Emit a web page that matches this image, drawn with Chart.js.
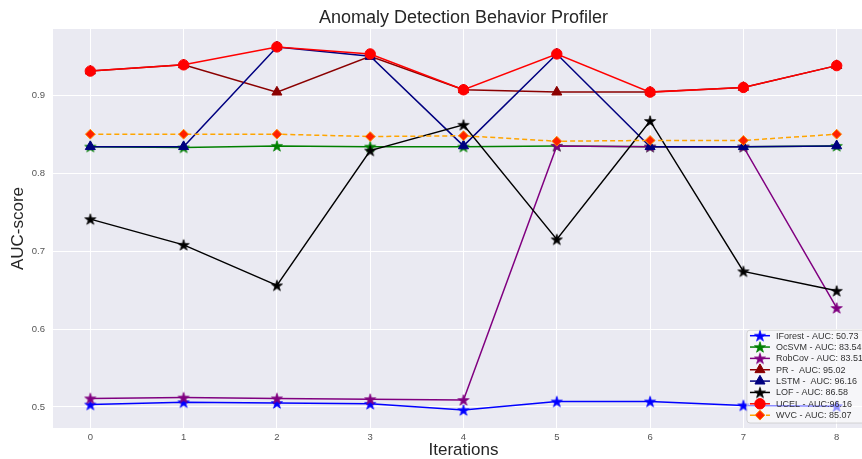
<!DOCTYPE html>
<html>
<head>
<meta charset="utf-8">
<script src="https://cdn.jsdelivr.net/npm/chart.js@4.4.1/dist/chart.umd.min.js"></script>
<style>
  html, body { margin: 0; padding: 0; background: #fff; overflow: hidden; width: 862px; height: 459px; }
  canvas { display: block; }
</style>
</head>
<body>
<canvas id="auc" width="927" height="459" style="width:927px;height:459px"></canvas>
<script>
// values
const iterations = [0, 1, 2, 3, 4, 5, 6, 7, 8];
const yTicks = [0.5, 0.6, 0.7, 0.8, 0.9];

const iforest = [0.503, 0.506, 0.505, 0.504, 0.496, 0.507, 0.507, 0.502, 0.501];
const ocsvm   = [0.834, 0.833, 0.835, 0.834, 0.834, 0.835, 0.834, 0.834, 0.835];
const robcov  = [0.511, 0.512, 0.511, 0.510, 0.509, 0.835, 0.834, 0.834, 0.627];
const pr      = [0.931, 0.939, 0.904, 0.950, 0.907, 0.904, 0.904, 0.910, 0.938];
const lstm    = [0.834, 0.834, 0.962, 0.950, 0.835, 0.953, 0.834, 0.834, 0.835];
const lof     = [0.741, 0.708, 0.656, 0.829, 0.862, 0.715, 0.867, 0.674, 0.649];
const ucel    = [0.931, 0.939, 0.962, 0.953, 0.907, 0.953, 0.904, 0.910, 0.938];
const wvc     = [0.850, 0.850, 0.850, 0.847, 0.848, 0.841, 0.842, 0.842, 0.850];

const labels = [
    'IForest - AUC: 50.73',
    'OcSVM - AUC: 83.54',
    'RobCov - AUC: 83.51',
    'PR -  AUC: 95.02',
    'LSTM -  AUC: 96.16',
    'LOF - AUC: 86.58',
    'UCEL - AUC:96.16',
    'WVC - AUC: 85.07'
];

const FONT = "'Liberation Sans', Arial, sans-serif";

// filled matplotlib-like star marker
function makeStar(color) {
    const c = document.createElement('canvas');
    c.width = 14; c.height = 14;
    const g = c.getContext('2d');
    const R = 5.8, r = R * 0.382;
    g.beginPath();
    for (let i = 0; i < 10; i++) {
        const rad = i % 2 ? r : R;
        const a = -Math.PI / 2 + i * Math.PI / 5;
        const px = 7 + rad * Math.cos(a), py = 7.5 + rad * Math.sin(a);
        i ? g.lineTo(px, py) : g.moveTo(px, py);
    }
    g.closePath();
    g.fillStyle = color;
    g.fill();
    g.lineWidth = 0.8;
    g.strokeStyle = color;
    g.stroke();
    return c;
}

function series(label, values, color, marker, extra) {
    return Object.assign({
        label,
        data: iterations.map((x, i) => ({ x, y: values[i] })),
        borderColor: color,
        backgroundColor: color,
        pointBackgroundColor: color,
        pointBorderColor: color,
        borderWidth: 1.5,
        pointStyle: marker,
        pointRadius: 5,
        pointBorderWidth: 1,
        tension: 0,
        yAxisID: 'y'
    }, extra || {});
}

const datasets = [
    series(labels[0], iforest, '#0000ff', makeStar('#0000ff')),
    series(labels[1], ocsvm, '#008000', makeStar('#008000')),
    series(labels[2], robcov, '#800080', makeStar('#800080')),
    series(labels[3], pr, '#8b0000', 'triangle', { pointRadius: 5.8 }),
    series(labels[4], lstm, '#000080', 'triangle', { pointRadius: 5.8 }),
    series(labels[5], lof, '#000000', makeStar('#000000')),
    series(labels[6], ucel, '#ff0000', 'circle', { pointRadius: 5.2 }),
    series(labels[7], wvc, '#ffa500', 'rectRot', {
        borderDash: [5, 3],
        pointBackgroundColor: '#ff2000',
        pointBorderColor: '#ff8c00',
        pointRadius: 4.9
    })
];
// later series on top, like matplotlib
datasets.forEach((d, i) => { d.order = datasets.length - i; });

// legend box in the lower right of the plot
const boxLegend = {
    id: 'boxLegend',
    afterDatasetsDraw(chart) {
        const { ctx, chartArea } = chart;
        const ds = chart.data.datasets;
        ctx.save();
        ctx.font = '9px ' + FONT;
        const maxW = Math.max(...ds.map(d => ctx.measureText(d.label).width));
        const rowH = 11.35;
        const w = 29 + maxW + 6;
        const h = rowH * ds.length + 2;
        const x = chartArea.right - 5 - w;
        const y = chartArea.bottom - 5 - h;
        ctx.beginPath();
        ctx.roundRect(x, y, w, h, 3);
        ctx.fillStyle = 'rgba(255,255,255,0.55)';
        ctx.fill();
        ctx.strokeStyle = '#cccccc';
        ctx.lineWidth = 0.8;
        ctx.stroke();
        ds.forEach((d, i) => {
            const cy = y + 5.5 + i * rowH;
            ctx.beginPath();
            ctx.setLineDash(d.borderDash || []);
            ctx.strokeStyle = d.borderColor;
            ctx.lineWidth = d.borderWidth;
            ctx.moveTo(x + 3, cy);
            ctx.lineTo(x + 23, cy);
            ctx.stroke();
            ctx.setLineDash([]);
            ctx.fillStyle = d.pointBackgroundColor;
            ctx.strokeStyle = d.pointBorderColor;
            ctx.lineWidth = 1;
            Chart.helpers.drawPoint(ctx, {
                pointStyle: d.pointStyle, radius: d.pointRadius, rotation: 0, borderWidth: 1
            }, x + 13, cy);
            ctx.fillStyle = '#333333';
            ctx.textBaseline = 'middle';
            ctx.textAlign = 'left';
            ctx.fillText(d.label, x + 29, cy + 0.5);
        });
        ctx.restore();
    }
};

const plotBg = {
    id: 'plotBg',
    beforeDraw(chart) {
        const { ctx, chartArea: a } = chart;
        ctx.save();
        ctx.fillStyle = '#eaeaf2';
        ctx.fillRect(a.left, a.top, a.right - a.left, a.bottom - a.top);
        ctx.restore();
    }
};

new Chart(document.getElementById('auc'), {
    type: 'line',
    data: { datasets },
    options: {
        responsive: false,
        animation: false,
        layout: { padding: 0 },
        plugins: {
            legend: { display: false },
            tooltip: { enabled: false },
            title: {
                display: true,
                text: 'Anomaly Detection Behavior Profiler',
                color: '#262626',
                font: { family: FONT, size: 18, weight: 'normal', lineHeight: 1.2 },
                padding: { top: 7, bottom: 0.4 }
            }
        },
        scales: {
            x: {
                type: 'linear',
                min: -0.4,
                max: 8.4,
                afterBuildTicks: s => { s.ticks = iterations.map(v => ({ value: v })); },
                afterFit: s => { s.height = 31; },
                grid: { color: '#ffffff', lineWidth: 1, drawTicks: false },
                border: { display: false },
                ticks: { color: '#555555', padding: 4, font: { family: FONT, size: 9.5 } },
                title: {
                    display: true, text: 'Iterations', color: '#262626',
                    font: { family: FONT, size: 17, lineHeight: 1 },
                    padding: { top: 0, bottom: 0 }
                }
            },
            y: {
                position: 'left',
                min: 0.473,
                max: 0.985,
                afterBuildTicks: s => { s.ticks = yTicks.map(v => ({ value: v })); },
                afterFit: s => { s.width = 53; },
                grid: { color: '#ffffff', lineWidth: 1, drawTicks: false },
                border: { display: false },
                ticks: { color: '#555555', padding: 8, font: { family: FONT, size: 9.5 },
                         callback: v => v.toFixed(1) },
                title: {
                    display: true, text: 'AUC-score', color: '#262626',
                    font: { family: FONT, size: 17, lineHeight: 1 },
                    padding: { top: 10, bottom: 0 }
                }
            },
            // empty right margin, same width as the left one
            spacer: {
                position: 'right',
                afterFit: s => { s.width = 53; },
                grid: { display: false },
                border: { display: false },
                ticks: { display: false }
            }
        }
    },
    plugins: [plotBg, boxLegend]
});
</script>
</body>
</html>
